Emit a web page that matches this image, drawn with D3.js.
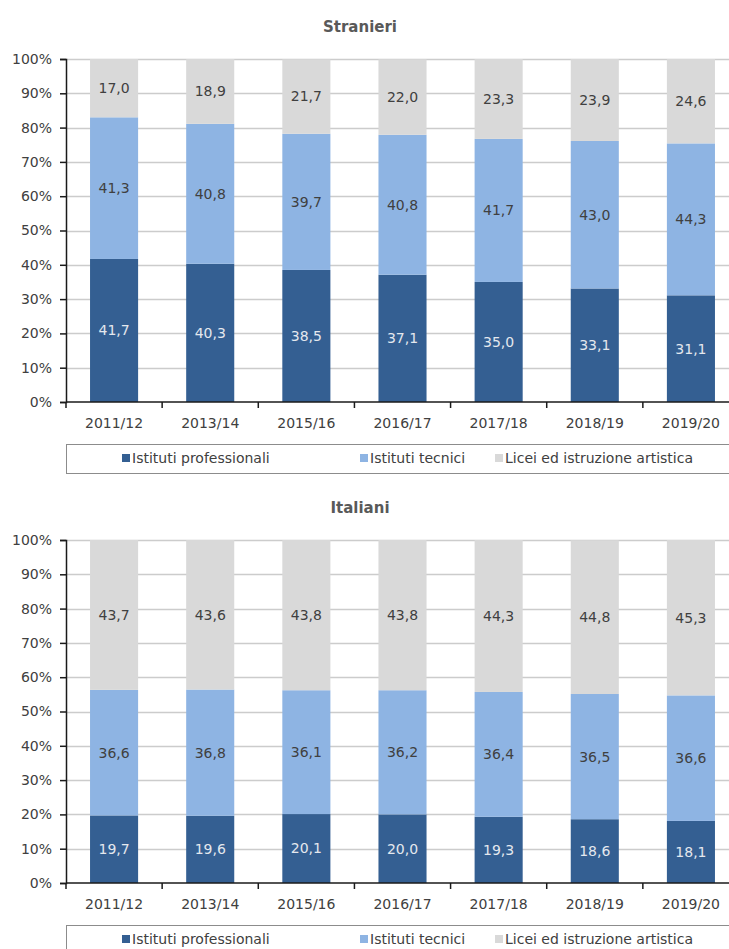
<!DOCTYPE html>
<html>
<head>
<meta charset="utf-8">
<script src="https://cdn.jsdelivr.net/npm/d3@7"></script>
<style>
  html, body { margin: 0; padding: 0; background: #fff; }
  svg { display: block; font-family: "DejaVu Sans", Verdana, sans-serif; }
</style>
</head>
<body>
<svg id="chart" width="729" height="949"></svg>
<script>
// School years on the x axis
const years = ["2011/12", "2013/14", "2015/16", "2016/17", "2017/18", "2018/19", "2019/20"];

// Series names (legend order, bottom to top in the stack)
const seriesNames = ["Istituti professionali", "Istituti tecnici", "Licei ed istruzione artistica"];

// Foreign students (%)
const stranieriProfessionali = [41.7, 40.3, 38.5, 37.1, 35.0, 33.1, 31.1];
const stranieriTecnici       = [41.3, 40.8, 39.7, 40.8, 41.7, 43.0, 44.3];
const stranieriLicei         = [17.0, 18.9, 21.7, 22.0, 23.3, 23.9, 24.6];

// Italian students (%)
const italianiProfessionali = [19.7, 19.6, 20.1, 20.0, 19.3, 18.6, 18.1];
const italianiTecnici       = [36.6, 36.8, 36.1, 36.2, 36.4, 36.5, 36.6];
const italianiLicei         = [43.7, 43.6, 43.8, 43.8, 44.3, 44.8, 45.3];

// Y tick values (percent)
const yTicks = [0, 10, 20, 30, 40, 50, 60, 70, 80, 90, 100];

const colors = ["#345f92", "#8eb4e3", "#d9d9d9"];
const labelColors = ["#e4e8ee", "#404040", "#404040"];

const svg = d3.select("#chart");
const fmt = v => d3.format(".1f")(v).replace(".", ",");

function drawPanel(title, seriesArrays, top) {
  const plotLeft = 66, plotRight = 739;
  const yTop = top + 59, yBottom = top + 402;

  const rows = years.map((yr, i) => {
    const r = { year: yr };
    seriesNames.forEach((s, k) => { r[s] = seriesArrays[k][i]; });
    return r;
  });
  const stacked = d3.stack().keys(seriesNames)(rows);

  const x = d3.scaleBand().domain(years).range([plotLeft, plotRight]).paddingInner(0.5).paddingOuter(0.25);
  const xb = d3.scaleBand().domain(years).range([plotLeft, plotRight]);
  const y = d3.scaleLinear().domain([0, 100]).range([yBottom, yTop]);

  const g = svg.append("g");

  // Title
  g.append("text")
    .attr("x", 360).attr("y", top + 32)
    .attr("text-anchor", "middle")
    .attr("font-size", 15).attr("font-weight", "bold")
    .attr("fill", "#595959")
    .text(title);

  // Horizontal gridlines
  g.append("g").selectAll("line")
    .data(yTicks.filter(t => t > 0))
    .join("line")
    .attr("x1", plotLeft).attr("x2", 729)
    .attr("y1", d => Math.round(y(d)) + 0.5).attr("y2", d => Math.round(y(d)) + 0.5)
    .attr("stroke", "#cccccc").attr("stroke-width", 1.5);

  // Stacked bars
  stacked.forEach((layer, k) => {
    g.append("g").selectAll("rect")
      .data(layer)
      .join("rect")
      .attr("x", d => x(d.data.year))
      .attr("width", x.bandwidth())
      .attr("y", d => y(d[1]))
      .attr("height", d => y(d[0]) - y(d[1]))
      .attr("fill", colors[k]);
  });

  // Value labels centred in each segment
  stacked.forEach((layer, k) => {
    g.append("g").selectAll("text")
      .data(layer)
      .join("text")
      .attr("x", d => x(d.data.year) + x.bandwidth() / 2)
      .attr("y", d => y((d[0] + d[1]) / 2))
      .attr("dy", "0.35em")
      .attr("text-anchor", "middle")
      .attr("font-size", 14)
      .attr("fill", labelColors[k])
      .text(d => fmt(d[1] - d[0]));
  });

  // Y axis
  const yAxis = d3.axisLeft(y).tickValues(yTicks).tickSize(6).tickPadding(8).tickFormat(d => d + "%");
  const ya = g.append("g").attr("transform", `translate(${plotLeft},0)`).call(yAxis);
  ya.select(".domain").attr("stroke", "#1a1a1a").attr("stroke-width", 1.5);
  ya.selectAll(".tick line").attr("stroke", "#1a1a1a").attr("stroke-width", 1.5);
  ya.selectAll(".tick text").attr("font-size", 14).attr("fill", "#404040")
    .attr("font-family", "DejaVu Sans, sans-serif");

  // X axis with ticks at category boundaries
  const xa = g.append("g").attr("transform", `translate(0,${yBottom})`);
  xa.append("line").attr("x1", plotLeft).attr("x2", 729).attr("y1", 0).attr("y2", 0)
    .attr("stroke", "#1a1a1a").attr("stroke-width", 1.5);
  xa.selectAll("line.tk")
    .data(years)
    .join("line").attr("class", "tk")
    .attr("x1", d => xb(d)).attr("x2", d => xb(d))
    .attr("y1", 0).attr("y2", 6)
    .attr("stroke", "#1a1a1a").attr("stroke-width", 1.5);
  xa.selectAll("text")
    .data(years)
    .join("text")
    .attr("x", d => xb(d) + xb.bandwidth() / 2)
    .attr("y", 21).attr("dy", "0.35em")
    .attr("text-anchor", "middle")
    .attr("font-size", 14).attr("fill", "#404040")
    .text(d => d);

  // Legend
  const lg = g.append("g").attr("transform", `translate(0,${top + 444})`);
  lg.append("rect").attr("x", 66.5).attr("y", 0.5).attr("width", 680).attr("height", 29)
    .attr("fill", "#fff").attr("stroke", "#8c8c8c").attr("stroke-width", 1);
  const itemX = [122, 360, 495];
  seriesNames.forEach((s, k) => {
    lg.append("rect").attr("x", itemX[k]).attr("y", 10).attr("width", 8).attr("height", 8)
      .attr("fill", colors[k]);
    lg.append("text").attr("x", itemX[k] + 10).attr("y", 14).attr("dy", "0.35em")
      .attr("font-size", 14).attr("fill", "#404040").text(s);
  });
}

drawPanel("Stranieri", [stranieriProfessionali, stranieriTecnici, stranieriLicei], 0);
drawPanel("Italiani", [italianiProfessionali, italianiTecnici, italianiLicei], 481);
</script>
</body>
</html>
